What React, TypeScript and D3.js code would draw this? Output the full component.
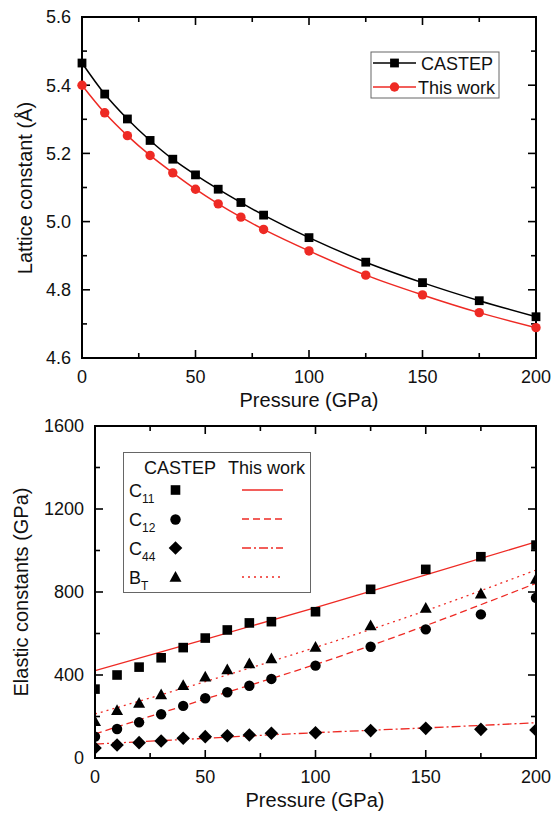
import React from 'react';
import * as d3 from 'd3';

// ---------- Data ----------
const pressures = [0, 10, 20, 30, 40, 50, 60, 70, 80, 100, 125, 150, 175, 200];
const castepLattice = [5.465, 5.374, 5.301, 5.238, 5.183, 5.137, 5.095, 5.056, 5.019, 4.953, 4.881, 4.821, 4.768, 4.721];
const thisWorkLattice = [5.4, 5.319, 5.252, 5.194, 5.143, 5.095, 5.052, 5.013, 4.977, 4.914, 4.843, 4.785, 4.733, 4.689];

const c11 = [332, 400, 438, 483, 532, 578, 617, 651, 657, 705, 813, 909, 970, 1026];
const c12 = [103, 140, 172, 211, 251, 288, 317, 348, 381, 445, 536, 620, 692, 772];
const c44 = [48, 63, 74, 82, 95, 103, 107, 111, 119, 122, 132, 143, 138, 135];
const bT = [175, 228, 263, 304, 348, 389, 424, 453, 477, 533, 636, 721, 790, 861];

const fitPressures = [0, 50, 100, 150, 200];
const c11Fit = [421, 572, 725, 882, 1042];
const c12Fit = [116, 284, 451, 638, 842];
const c44Fit = [67, 95, 122, 145, 170];
const bTFit = [212, 368, 533, 710, 906];

const xMajorTicks = [0, 50, 100, 150, 200];
const xMinorTicks = [25, 75, 125, 175];
const latticeMajorTicks = [4.6, 4.8, 5.0, 5.2, 5.4, 5.6];
const latticeMinorTicks = [4.7, 4.9, 5.1, 5.3, 5.5];
const elasticMajorTicks = [0, 400, 800, 1200, 1600];
const elasticMinorTicks = [200, 600, 1000, 1400];

const FONT = '"Liberation Sans", Arial, sans-serif';
const RED = '#ee2a24';

// ---------- Frame with inward ticks ----------
function Frame({ x, y, xMajor, xMinor, yMajor, yMinor, yFmt }: any) {
  const [x0, x1] = x.range();
  const [y0, y1] = y.range(); // y0 bottom, y1 top
  const maj = 8, min = 5;
  const els: any[] = [];
  xMajor.forEach((t: number, i: number) => {
    const px = x(t);
    els.push(<line key={'xb' + i} x1={px} x2={px} y1={y0} y2={y0 - maj} />);
    els.push(<line key={'xt' + i} x1={px} x2={px} y1={y1} y2={y1 + maj} />);
  });
  xMinor.forEach((t: number, i: number) => {
    const px = x(t);
    els.push(<line key={'xbm' + i} x1={px} x2={px} y1={y0} y2={y0 - min} />);
    els.push(<line key={'xtm' + i} x1={px} x2={px} y1={y1} y2={y1 + min} />);
  });
  yMajor.forEach((t: number, i: number) => {
    const py = y(t);
    els.push(<line key={'yl' + i} x1={x0} x2={x0 + maj} y1={py} y2={py} />);
    els.push(<line key={'yr' + i} x1={x1} x2={x1 - maj} y1={py} y2={py} />);
  });
  yMinor.forEach((t: number, i: number) => {
    const py = y(t);
    els.push(<line key={'ylm' + i} x1={x0} x2={x0 + min} y1={py} y2={py} />);
    els.push(<line key={'yrm' + i} x1={x1} x2={x1 - min} y1={py} y2={py} />);
  });
  return (
    <g>
      <g stroke="#000" strokeWidth={1.6}>{els}</g>
      <rect x={x0} y={y1} width={x1 - x0} height={y0 - y1} fill="none" stroke="#000" strokeWidth={2} />
      <g fontFamily={FONT} fontSize={18} fill="#111">
        {xMajor.map((t: number, i: number) => (
          <text key={'xl' + i} x={x(t)} y={y0 + 25} textAnchor="middle">{t}</text>
        ))}
        {yMajor.map((t: number, i: number) => (
          <text key={'ylb' + i} x={x0 - 11} y={y(t)} dy="0.36em" textAnchor="end">{yFmt(t)}</text>
        ))}
      </g>
    </g>
  );
}

function TopChart() {
  const x = d3.scaleLinear().domain([0, 200]).range([82, 536]);
  const y = d3.scaleLinear().domain([4.6, 5.6]).range([358, 17]);
  const line = d3
    .line<number>()
    .x((_, i) => x(pressures[i]))
    .y((d) => y(d))
    .curve(d3.curveCatmullRom);
  const sq = 8.8;
  return (
    <g>
      <Frame x={x} y={y} xMajor={xMajorTicks} xMinor={xMinorTicks} yMajor={latticeMajorTicks} yMinor={latticeMinorTicks} yFmt={(t: number) => t.toFixed(1)} />
      <path d={line(castepLattice) || ''} fill="none" stroke="#000" strokeWidth={1.5} />
      <path d={line(thisWorkLattice) || ''} fill="none" stroke={RED} strokeWidth={1.5} />
      {castepLattice.map((v, i) => (
        <rect key={'s' + i} x={x(pressures[i]) - sq / 2} y={y(v) - sq / 2} width={sq} height={sq} fill="#000" />
      ))}
      {thisWorkLattice.map((v, i) => (
        <circle key={'c' + i} cx={x(pressures[i])} cy={y(v)} r={4.7} fill={RED} />
      ))}
      {/* Legend */}
      <rect x={371} y={52} width={128} height={46} fill="#fff" stroke="#666" strokeWidth={1} />
      <line x1={373} x2={416} y1={63} y2={63} stroke="#000" strokeWidth={1.5} />
      <rect x={394.5 - sq / 2} y={63 - sq / 2} width={sq} height={sq} fill="#000" />
      <line x1={373} x2={416} y1={87} y2={87} stroke={RED} strokeWidth={1.5} />
      <circle cx={394.5} cy={87} r={4.7} fill={RED} />
      <g fontFamily={FONT} fontSize={18} fill="#111">
        <text x={421} y={69.5}>CASTEP</text>
        <text x={418} y={93.5}>This work</text>
      </g>
      <text x={309} y={407} textAnchor="middle" fontFamily={FONT} fontSize={20} fill="#111">Pressure (GPa)</text>
      <text transform={`translate(32,188) rotate(-90)`} textAnchor="middle" fontFamily={FONT} fontSize={20} fill="#111">
        Lattice constant (Å)
      </text>
    </g>
  );
}

function squarePath(cx: number, cy: number, s: number) {
  return `M${cx - s / 2},${cy - s / 2}h${s}v${s}h${-s}Z`;
}
function trianglePath(cx: number, cy: number, s: number) {
  const h = s * 0.9;
  return `M${cx},${cy - h * 0.6}L${cx + s / 2},${cy + h * 0.4}L${cx - s / 2},${cy + h * 0.4}Z`;
}
function diamondPath(cx: number, cy: number, s: number) {
  return `M${cx},${cy - s}L${cx + s},${cy}L${cx},${cy + s}L${cx - s},${cy}Z`;
}

function BottomChart() {
  const x = d3.scaleLinear().domain([0, 200]).range([95, 536]);
  const y = d3.scaleLinear().domain([0, 1600]).range([758, 426]);
  const fitLine = d3
    .line<number>()
    .x((_, i) => x(fitPressures[i]))
    .y((d) => y(d))
    .curve(d3.curveNatural);
  const [x0, x1] = x.range();
  const [y0, y1] = y.range();
  return (
    <g>
      <defs>
        <clipPath id="plotClip">
          <rect x={x0} y={y1} width={x1 - x0} height={y0 - y1} />
        </clipPath>
      </defs>
      <g clipPath="url(#plotClip)">
        <path d={fitLine(c11Fit) || ''} fill="none" stroke={RED} strokeWidth={1.3} />
        <path d={fitLine(c12Fit) || ''} fill="none" stroke={RED} strokeWidth={1.3} strokeDasharray="7,4" />
        <path d={fitLine(c44Fit) || ''} fill="none" stroke={RED} strokeWidth={1.3} strokeDasharray="9,3,2,3" />
        <path d={fitLine(bTFit) || ''} fill="none" stroke={RED} strokeWidth={1.3} strokeDasharray="2,4" />
        {c11.map((v, i) => (
          <path key={'a' + i} d={squarePath(x(pressures[i]), y(v), 9.6)} fill="#000" />
        ))}
        {c12.map((v, i) => (
          <circle key={'b' + i} cx={x(pressures[i])} cy={y(v)} r={5.2} fill="#000" />
        ))}
        {c44.map((v, i) => (
          <path key={'c' + i} d={diamondPath(x(pressures[i]), y(v), 6.8)} fill="#000" />
        ))}
        {bT.map((v, i) => (
          <path key={'d' + i} d={trianglePath(x(pressures[i]), y(v), 12)} fill="#000" />
        ))}
      </g>
      <Frame x={x} y={y} xMajor={xMajorTicks} xMinor={xMinorTicks} yMajor={elasticMajorTicks} yMinor={elasticMinorTicks} yFmt={(t: number) => String(t)} />
      {/* Legend */}
      <rect x={123.5} y={452.5} width={187} height={140} fill="#fff" stroke="#666" strokeWidth={1} />
      <g fontFamily={FONT} fontSize={18} fill="#111">
        <text x={144} y={474}>CASTEP</text>
        <text x={228} y={474}>This work</text>
        {[
          ['C', '11'],
          ['C', '12'],
          ['C', '44'],
          ['B', 'T'],
        ].map((lab, i) => (
          <text key={'lt' + i} x={129} y={497 + i * 29}>
            {lab[0]}
            <tspan fontSize={12} dy={6}>{lab[1]}</tspan>
          </text>
        ))}
      </g>
      <path d={squarePath(175.5, 490, 9.6)} fill="#000" />
      <circle cx={175.5} cy={519.5} r={5.2} fill="#000" />
      <path d={diamondPath(175.5, 548, 6.8)} fill="#000" />
      <path d={trianglePath(175.5, 577.5, 12)} fill="#000" />
      <line x1={242} x2={283} y1={490} y2={490} stroke={RED} strokeWidth={1.3} />
      <line x1={242} x2={283} y1={519} y2={519} stroke={RED} strokeWidth={1.3} strokeDasharray="7,4" />
      <line x1={242} x2={283} y1={548} y2={548} stroke={RED} strokeWidth={1.3} strokeDasharray="9,3,2,3" />
      <line x1={242} x2={283} y1={577} y2={577} stroke={RED} strokeWidth={1.3} strokeDasharray="2,4" />
      <text x={315} y={807} textAnchor="middle" fontFamily={FONT} fontSize={20} fill="#111">Pressure (GPa)</text>
      <text transform={`translate(28,592) rotate(-90)`} textAnchor="middle" fontFamily={FONT} fontSize={20} fill="#111">
        Elastic constants (GPa)
      </text>
    </g>
  );
}

export default function App() {
  return (
    <svg
      width={553}
      height={813}
      viewBox="0 0 553 813"
      style={{ position: 'absolute', left: 0, top: 0, background: '#fff' }}
    >
      <rect width={553} height={813} fill="#fff" />
      <TopChart />
      <BottomChart />
    </svg>
  );
}
